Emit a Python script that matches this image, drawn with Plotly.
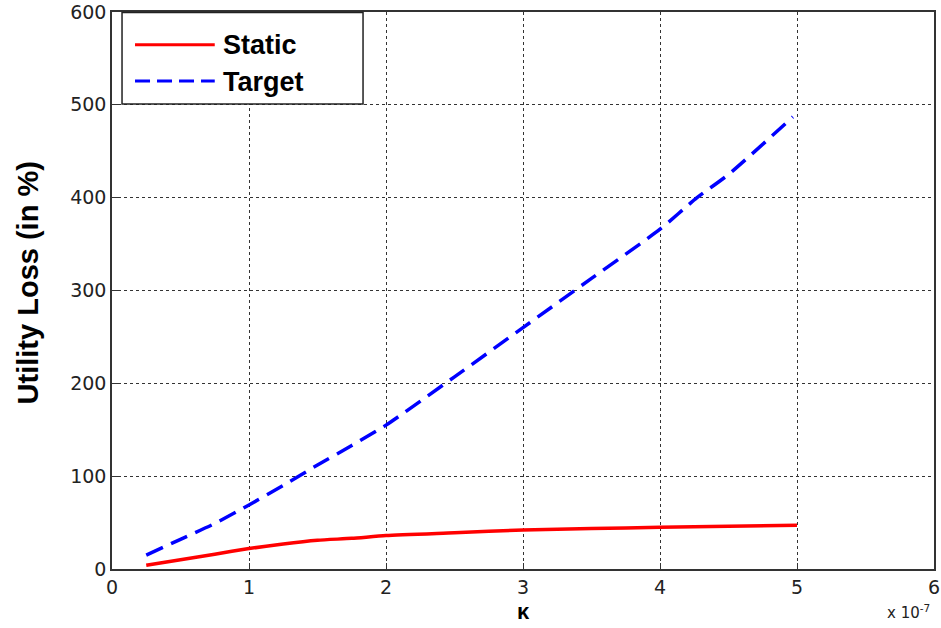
import plotly.graph_objects as go

# kappa in units of 1e-7
kappa_static = [0.25, 0.5, 0.75, 1.0, 1.25, 1.5, 1.75, 2.0, 2.5, 3.0, 3.5, 4.0, 4.5, 5.0]
static_loss = [4, 10, 16, 22, 27, 31, 33, 36, 39, 42, 43.5, 45, 46, 47]

kappa_target = [0.25, 0.5, 0.75, 1.0, 1.25, 1.5, 1.75, 2.0, 2.5, 3.0, 3.5, 4.0, 4.27, 4.5, 4.97]
target_loss = [15, 32, 49, 69, 90, 112, 133, 155, 207, 260, 313, 366, 400, 425, 487]

x_ticks = [0, 1, 2, 3, 4, 5, 6]
y_ticks = [0, 100, 200, 300, 400, 500, 600]

fig = go.Figure()
fig.add_trace(go.Scatter(x=kappa_static, y=static_loss, mode="lines", name="Static",
                         line=dict(color="#ff0000", width=3.5, shape="spline", smoothing=0.6),
                         showlegend=False))
fig.add_trace(go.Scatter(x=kappa_target, y=target_loss, mode="lines", name="Target",
                         line=dict(color="#0000ff", width=3.5, dash="18px,9px", shape="spline", smoothing=0.6),
                         showlegend=False))

tickfont = dict(family="DejaVu Sans", size=19, color="#222")
common = dict(showgrid=True, gridcolor="#333", griddash="dot", gridwidth=1,
              showline=True, linecolor="#333", linewidth=1.5, mirror=True,
              ticks="inside", ticklen=6, tickcolor="#333", zeroline=False,
              tickfont=tickfont, automargin=False)
fig.update_xaxes(range=[0, 6], tickvals=x_ticks, ticktext=[str(t) for t in x_ticks], **common)
fig.update_yaxes(range=[0, 600], tickvals=y_ticks, **common)

# y-axis title
fig.add_annotation(xref="paper", yref="paper", x=-0.102, y=0.513, xanchor="center", yanchor="middle",
                   text="<b>Utility Loss (in %)</b>", textangle=-90, showarrow=False,
                   font=dict(family="Liberation Sans Narrow, Arial Narrow, Arial", size=29, color="#000"))

# manual legend box
fig.add_shape(type="rect", xref="paper", yref="paper", x0=0.0122, x1=0.3054, y0=0.835, y1=0.999,
              line=dict(color="#222", width=1.5), fillcolor="white", layer="above")
fig.add_shape(type="line", xref="paper", yref="paper", x0=0.028, x1=0.125, y0=0.941, y1=0.941,
              line=dict(color="#ff0000", width=3), layer="above")
fig.add_shape(type="line", xref="paper", yref="paper", x0=0.028, x1=0.125, y0=0.876, y1=0.876,
              line=dict(color="#0000ff", width=3, dash="15px,7px"), layer="above")
fig.add_annotation(xref="paper", yref="paper", x=0.133, y=0.941, xanchor="left", yanchor="middle",
                   text="<b>Static</b>", showarrow=False,
                   font=dict(family="Arial, Liberation Sans", size=27, color="#000"))
fig.add_annotation(xref="paper", yref="paper", x=0.133, y=0.874, xanchor="left", yanchor="middle",
                   text="<b>Target</b>", showarrow=False,
                   font=dict(family="Arial, Liberation Sans", size=27, color="#000"))

fig.add_annotation(xref="paper", yref="paper", x=0.5, y=-0.077, xanchor="center", yanchor="middle",
                   text="<b>κ</b>", showarrow=False,
                   font=dict(family="Arial, Liberation Sans", size=22, color="#000"))
fig.add_annotation(xref="paper", yref="paper", x=0.998, y=-0.077, xanchor="right", yanchor="middle",
                   text="x 10<sup>-7</sup>", showarrow=False,
                   font=dict(family="DejaVu Sans", size=15, color="#222"))

fig.update_layout(width=941, height=628, margin=dict(l=112, r=7, t=12, b=59),
                  plot_bgcolor="white", paper_bgcolor="white", showlegend=False)

# remove the default 8px page margin so the figure fills the window exactly
fig.write_html("out.html", config={"displayModeBar": False},
               post_script="document.body.style.margin='0';")
